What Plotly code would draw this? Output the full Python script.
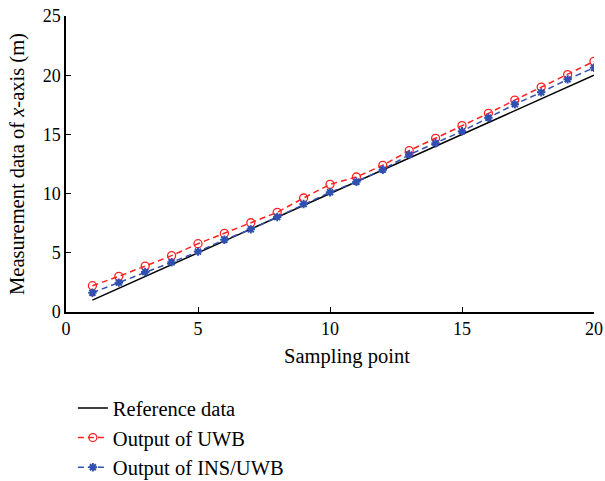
import plotly.graph_objects as go

sampling_points = list(range(1, 21))
reference_data = [float(i) for i in range(1, 21)]
uwb_output = [2.22, 3.01, 3.88, 4.76, 5.77, 6.64, 7.54, 8.42, 9.63, 10.78,
              11.40, 12.39, 13.63, 14.67, 15.74, 16.78, 17.90, 19.00, 20.05, 21.17]
ins_uwb_output = [1.63, 2.48, 3.38, 4.20, 5.10, 6.10, 6.98, 8.02, 9.12, 10.11,
                  11.00, 12.02, 13.29, 14.25, 15.26, 16.41, 17.54, 18.55, 19.65, 20.63]

FONT = "Liberation Serif"
FS_TICK = 18
FS_TEXT = 20.5
RED = "#ff2020"
BLUE = "#3050b0"

fig = go.Figure()
fig.add_trace(go.Scatter(
    x=sampling_points, y=reference_data, mode="lines", name="Reference data",
    legendgroup="a", line=dict(color="black", width=1.5)))
fig.add_trace(go.Scatter(
    x=sampling_points, y=uwb_output, mode="lines+markers", name="Output of UWB",
    legendgroup="b", line=dict(color=RED, width=1.5, dash="6px,4px"),
    marker=dict(symbol="circle-open", size=8, color=RED, line=dict(width=1.3, color=RED))))
fig.add_trace(go.Scatter(
    x=sampling_points, y=ins_uwb_output, mode="lines+markers", name="Output of INS/UWB",
    legendgroup="c", line=dict(color=BLUE, width=1.5, dash="6px,4px"),
    marker=dict(symbol="asterisk-open", size=7, color=BLUE, line=dict(width=2, color=BLUE))))

axis_common = dict(
    showline=True, linecolor="black", linewidth=1.5, mirror=False,
    ticks="inside", ticklen=5, tickwidth=1.2, tickcolor="black",
    showgrid=False, zeroline=False, automargin=False,
    tickfont=dict(family=FONT, size=FS_TICK, color="black"),
)

fig.update_layout(
    width=605, height=481,
    margin=dict(l=66, r=11, t=16, b=169, autoexpand=False),
    paper_bgcolor="white", plot_bgcolor="white",
    font=dict(family=FONT, size=FS_TEXT, color="black"),
    xaxis=dict(range=[0, 20], tickvals=[0, 5, 10, 15, 20], **axis_common),
    yaxis=dict(range=[0, 25], tickvals=[0, 5, 10, 15, 20, 25],
               title=dict(text="Measurement data of <i>x</i>-axis (m)",
                          font=dict(family=FONT, size=FS_TEXT), standoff=12),
               **axis_common),
    annotations=[dict(text="Sampling point", xref="paper", yref="paper",
                      x=0.532, y=-0.152, xanchor="center", yanchor="middle",
                      showarrow=False, font=dict(family=FONT, size=FS_TEXT, color="black"))],
    showlegend=True,
    legend=dict(x=0.013, y=-0.257, xanchor="left", yanchor="top",
                font=dict(family=FONT, size=FS_TEXT, color="black"),
                bgcolor="rgba(0,0,0,0)", traceorder="grouped", tracegroupgap=0, itemwidth=30),
)

fig.write_html("out.html")
